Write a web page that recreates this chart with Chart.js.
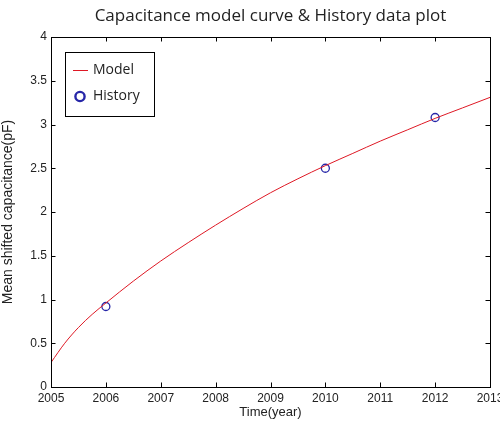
<!DOCTYPE html>
<html>
<head>
<meta charset="utf-8">
<script src="https://cdn.jsdelivr.net/npm/chart.js@4.4.0/dist/chart.umd.min.js"></script>
<style>
  html, body { margin: 0; padding: 0; background: #fff; }
  canvas { display: block; }
</style>
</head>
<body>
<canvas id="capChart" width="500" height="423"></canvas>
<script>
// model curve
const modelYears = [2005, 2005.25, 2005.5, 2005.75, 2006, 2006.5, 2007, 2007.5, 2008, 2008.5,
  2009, 2009.5, 2010, 2010.5, 2011, 2011.5, 2012, 2012.5, 2013];
const modelValues = [0.28, 0.50, 0.68, 0.83, 0.96, 1.21, 1.44, 1.65, 1.85, 2.04,
  2.22, 2.38, 2.53, 2.67, 2.81, 2.94, 3.07, 3.19, 3.31];

// history points
const historyYears = [2006, 2010, 2012];
const historyValues = [0.92, 2.50, 3.08];

const xTickLabels = ['2005', '2006', '2007', '2008', '2009', '2010', '2011', '2012', '2013'];
const yTickLabels = ['0', '0.5', '1', '1.5', '2', '2.5', '3', '3.5', '4'];

const titleText = 'Capacitance model curve & History data plot';
const modelColor = 'rgb(222,24,36)';
const historyColor = '#2626a8';
const tickFont = { family: '"Liberation Sans", Arial, sans-serif', size: 12 };
const axisTitleFont = { family: '"Liberation Sans", Arial, sans-serif', size: 13 };

// matlab style frame, inward ticks, title and legend
const matlabBox = {
  id: 'matlabBox',
  afterDraw(chart) {
    const { ctx, chartArea: a, scales } = chart;
    const len = 4.5;
    ctx.save();
    ctx.strokeStyle = '#000';
    ctx.lineWidth = 1;
    ctx.strokeRect(a.left + 0.5, a.top + 0.5, a.right - a.left, a.bottom - a.top);
    ctx.beginPath();
    scales.x.ticks.forEach(t => {
      const px = Math.round(scales.x.getPixelForValue(t.value)) + 0.5;
      ctx.moveTo(px, a.bottom); ctx.lineTo(px, a.bottom - len);
      ctx.moveTo(px, a.top); ctx.lineTo(px, a.top + len);
    });
    scales.y.ticks.forEach(t => {
      const py = Math.round(scales.y.getPixelForValue(t.value)) + 0.5;
      ctx.moveTo(a.left, py); ctx.lineTo(a.left + len, py);
      ctx.moveTo(a.right, py); ctx.lineTo(a.right - len, py);
    });
    ctx.stroke();

    // title
    ctx.fillStyle = '#222';
    ctx.font = '17px "Open Sans", sans-serif';
    ctx.textAlign = 'center';
    ctx.textBaseline = 'middle';
    ctx.fillText(titleText, (a.left + a.right) / 2, 16);

    // legend box
    const lx = a.left + 14, ly = a.top + 15, lw = 89, lh = 64;
    ctx.fillStyle = '#fff';
    ctx.fillRect(lx, ly, lw, lh);
    ctx.strokeStyle = '#000';
    ctx.strokeRect(lx + 0.5, ly + 0.5, lw, lh);
    const ds = chart.data.datasets;
    ctx.font = '14px "Open Sans", sans-serif';
    ctx.textAlign = 'left';
    ctx.fillStyle = '#222';
    // model entry
    ctx.strokeStyle = ds[0].borderColor;
    ctx.lineWidth = 1;
    ctx.beginPath();
    ctx.moveTo(lx + 8, ly + 18.5); ctx.lineTo(lx + 23, ly + 18.5);
    ctx.stroke();
    ctx.fillText(ds[0].label, lx + 28, ly + 18);
    // history entry
    ctx.strokeStyle = ds[1].borderColor;
    ctx.lineWidth = 2.4;
    ctx.beginPath();
    ctx.arc(lx + 15, ly + 44.5, 4.6, 0, Math.PI * 2);
    ctx.stroke();
    ctx.fillText(ds[1].label, lx + 28, ly + 44);
    ctx.restore();
  }
};

const ctx = document.getElementById('capChart').getContext('2d');

const capChart = new Chart(ctx, {
  type: 'line',
  data: {
    datasets: [{
      label: 'Model',
      data: modelYears.map((x, i) => ({ x: x, y: modelValues[i] })),
      borderColor: modelColor,
      borderWidth: 1,
      pointRadius: 0,
      cubicInterpolationMode: 'monotone',
      fill: false
    }, {
      label: 'History',
      type: 'scatter',
      data: historyYears.map((x, i) => ({ x: x, y: historyValues[i] })),
      borderColor: historyColor,
      backgroundColor: 'rgba(0,0,0,0)',
      borderWidth: 1.3,
      pointRadius: 4,
      showLine: false
    }]
  },
  options: {
    responsive: false,
    animation: false,
    events: [],
    layout: { padding: { left: 0, right: 10, top: 37, bottom: 0 } },
    scales: {
      x: {
        type: 'linear',
        min: 2005,
        max: 2013,
        afterBuildTicks: s => { s.ticks = xTickLabels.map(v => ({ value: Number(v) })); },
        afterFit: s => { s.height = 36; s.paddingRight = 0; },
        grid: { display: false, drawTicks: false },
        border: { display: false },
        ticks: {
          font: tickFont,
          color: '#222',
          padding: 4,
          maxRotation: 0,
          callback: (v, i) => xTickLabels[i]
        },
        title: {
          display: true,
          text: 'Time(year)',
          font: axisTitleFont,
          color: '#222',
          padding: { top: 0, bottom: 3 }
        }
      },
      y: {
        type: 'linear',
        min: 0,
        max: 4,
        afterBuildTicks: s => { s.ticks = yTickLabels.map(v => ({ value: Number(v) })); },
        afterFit: s => { s.width = 51; },
        grid: { display: false, drawTicks: false },
        border: { display: false },
        ticks: {
          font: tickFont,
          color: '#222',
          padding: 4,
          callback: (v, i) => yTickLabels[i]
        },
        title: {
          display: true,
          text: 'Mean shifted capacitance(pF)',
          font: { family: axisTitleFont.family, size: 14 },
          color: '#222',
          padding: { top: 0, bottom: 0 }
        }
      }
    },
    plugins: {
      legend: { display: false },
      title: { display: false },
      tooltip: { enabled: false }
    }
  },
  plugins: [matlabBox]
});
</script>
</body>
</html>
